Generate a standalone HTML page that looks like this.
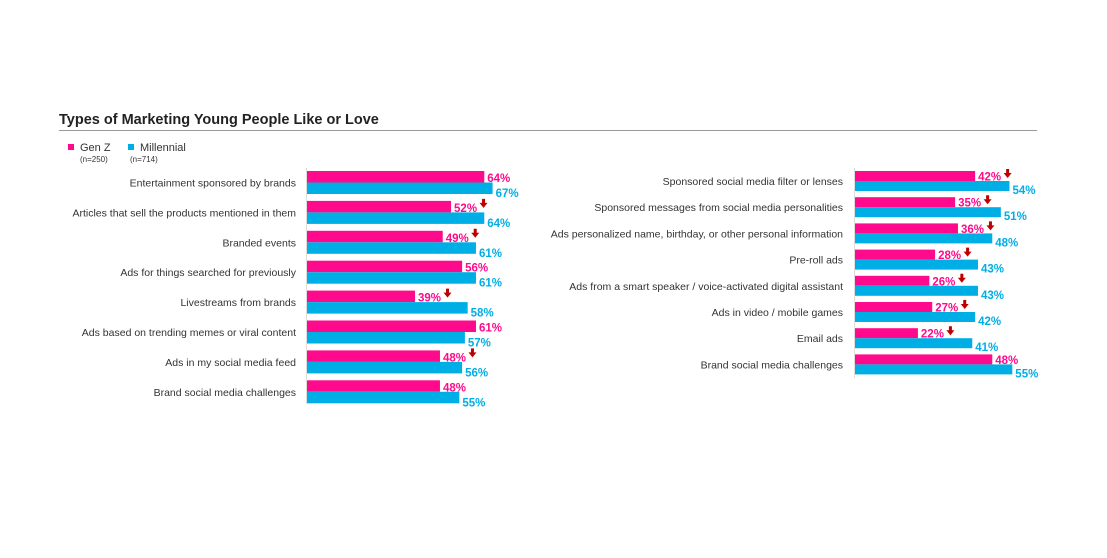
<!DOCTYPE html>
<html><head><meta charset="utf-8"><style>
body{margin:0;background:#fff;width:1107px;height:553px;overflow:hidden;font-family:"Liberation Sans",sans-serif}
</style></head><body>
<svg width="1107" height="553" xmlns="http://www.w3.org/2000/svg" font-family="Liberation Sans, sans-serif">
<text x="59" y="124" font-size="14.5" font-weight="bold" fill="#222">Types of Marketing Young People Like or Love</text>
<line x1="59" y1="130.5" x2="1037" y2="130.5" stroke="#999" stroke-width="1"/>
<rect x="68" y="144" width="6" height="6" fill="#ff0a8c"/>
<text x="80" y="151" font-size="11" fill="#333">Gen Z</text>
<text x="80" y="162" font-size="8" fill="#333">(n=250)</text>
<rect x="128" y="144" width="6" height="6" fill="#00aee6"/>
<text x="140" y="151" font-size="11" fill="#333">Millennial</text>
<text x="130" y="162" font-size="8" fill="#333">(n=714)</text>
<line x1="306.5" y1="168" x2="306.5" y2="404" stroke="#ddd"/>
<line x1="854.5" y1="168" x2="854.5" y2="378" stroke="#ddd"/>
<g id="charts"></g>
</svg>
<script>
const ns="http://www.w3.org/2000/svg",g=document.getElementById('charts');
function el(t,a,txt){const e=document.createElementNS(ns,t);for(const k in a)e.setAttribute(k,a[k]);if(txt)e.textContent=txt;g.appendChild(e);return e;}
function arrow(x,y){el('path',{d:`M${x+2} ${y} h3 v4 h2.5 l-4 5 l-4 -5 h2.5z`,fill:'#c00000'});}
function chart(x0,labelX,scale,y0,pitch,h,rows){
rows.forEach((r,i)=>{const y=y0+i*pitch;
el('text',{x:labelX,y:y+h+4,'font-size':10.5,'text-anchor':'end',fill:'#333'},r[0]);
const wz=r[1]*scale,wm=r[2]*scale;
el('rect',{x:x0,y:y,width:wz,height:h,fill:'#ff0a8c'});
el('rect',{x:x0,y:y+h,width:wm,height:h,fill:'#00aee6'});
el('text',{x:x0+wz+3,y:y+h-0.5,'font-size':11.5,'font-weight':'bold',fill:'#ff0a8c'},r[1]+'%');
el('text',{x:x0+wm+3,y:y+2*h+3,'font-size':11.5,'font-weight':'bold',fill:'#00aee6'},r[2]+'%');
if(r[3])arrow(x0+wz+29,y-2);
});}
chart(307,296,2.77,171,29.9,11.5,[
["Entertainment  sponsored by brands",64,67,0],
["Articles that sell the products mentioned in them",52,64,1],
["Branded events",49,61,1],
["Ads for things searched for previously",56,61,0],
["Livestreams from brands",39,58,1],
["Ads based on trending memes or viral content",61,57,0],
["Ads in my social media feed",48,56,1],
["Brand social media challenges",48,55,0]]);
chart(855,843,2.86,171,26.2,10,[
["Sponsored social media filter or lenses",42,54,1],
["Sponsored messages from social media personalities",35,51,1],
["Ads personalized name, birthday, or other personal information",36,48,1],
["Pre-roll ads",28,43,1],
["Ads from a smart speaker / voice-activated digital assistant",26,43,1],
["Ads in video / mobile games",27,42,1],
["Email ads",22,41,1],
["Brand social media challenges",48,55,0]]);
</script>
</body></html>
